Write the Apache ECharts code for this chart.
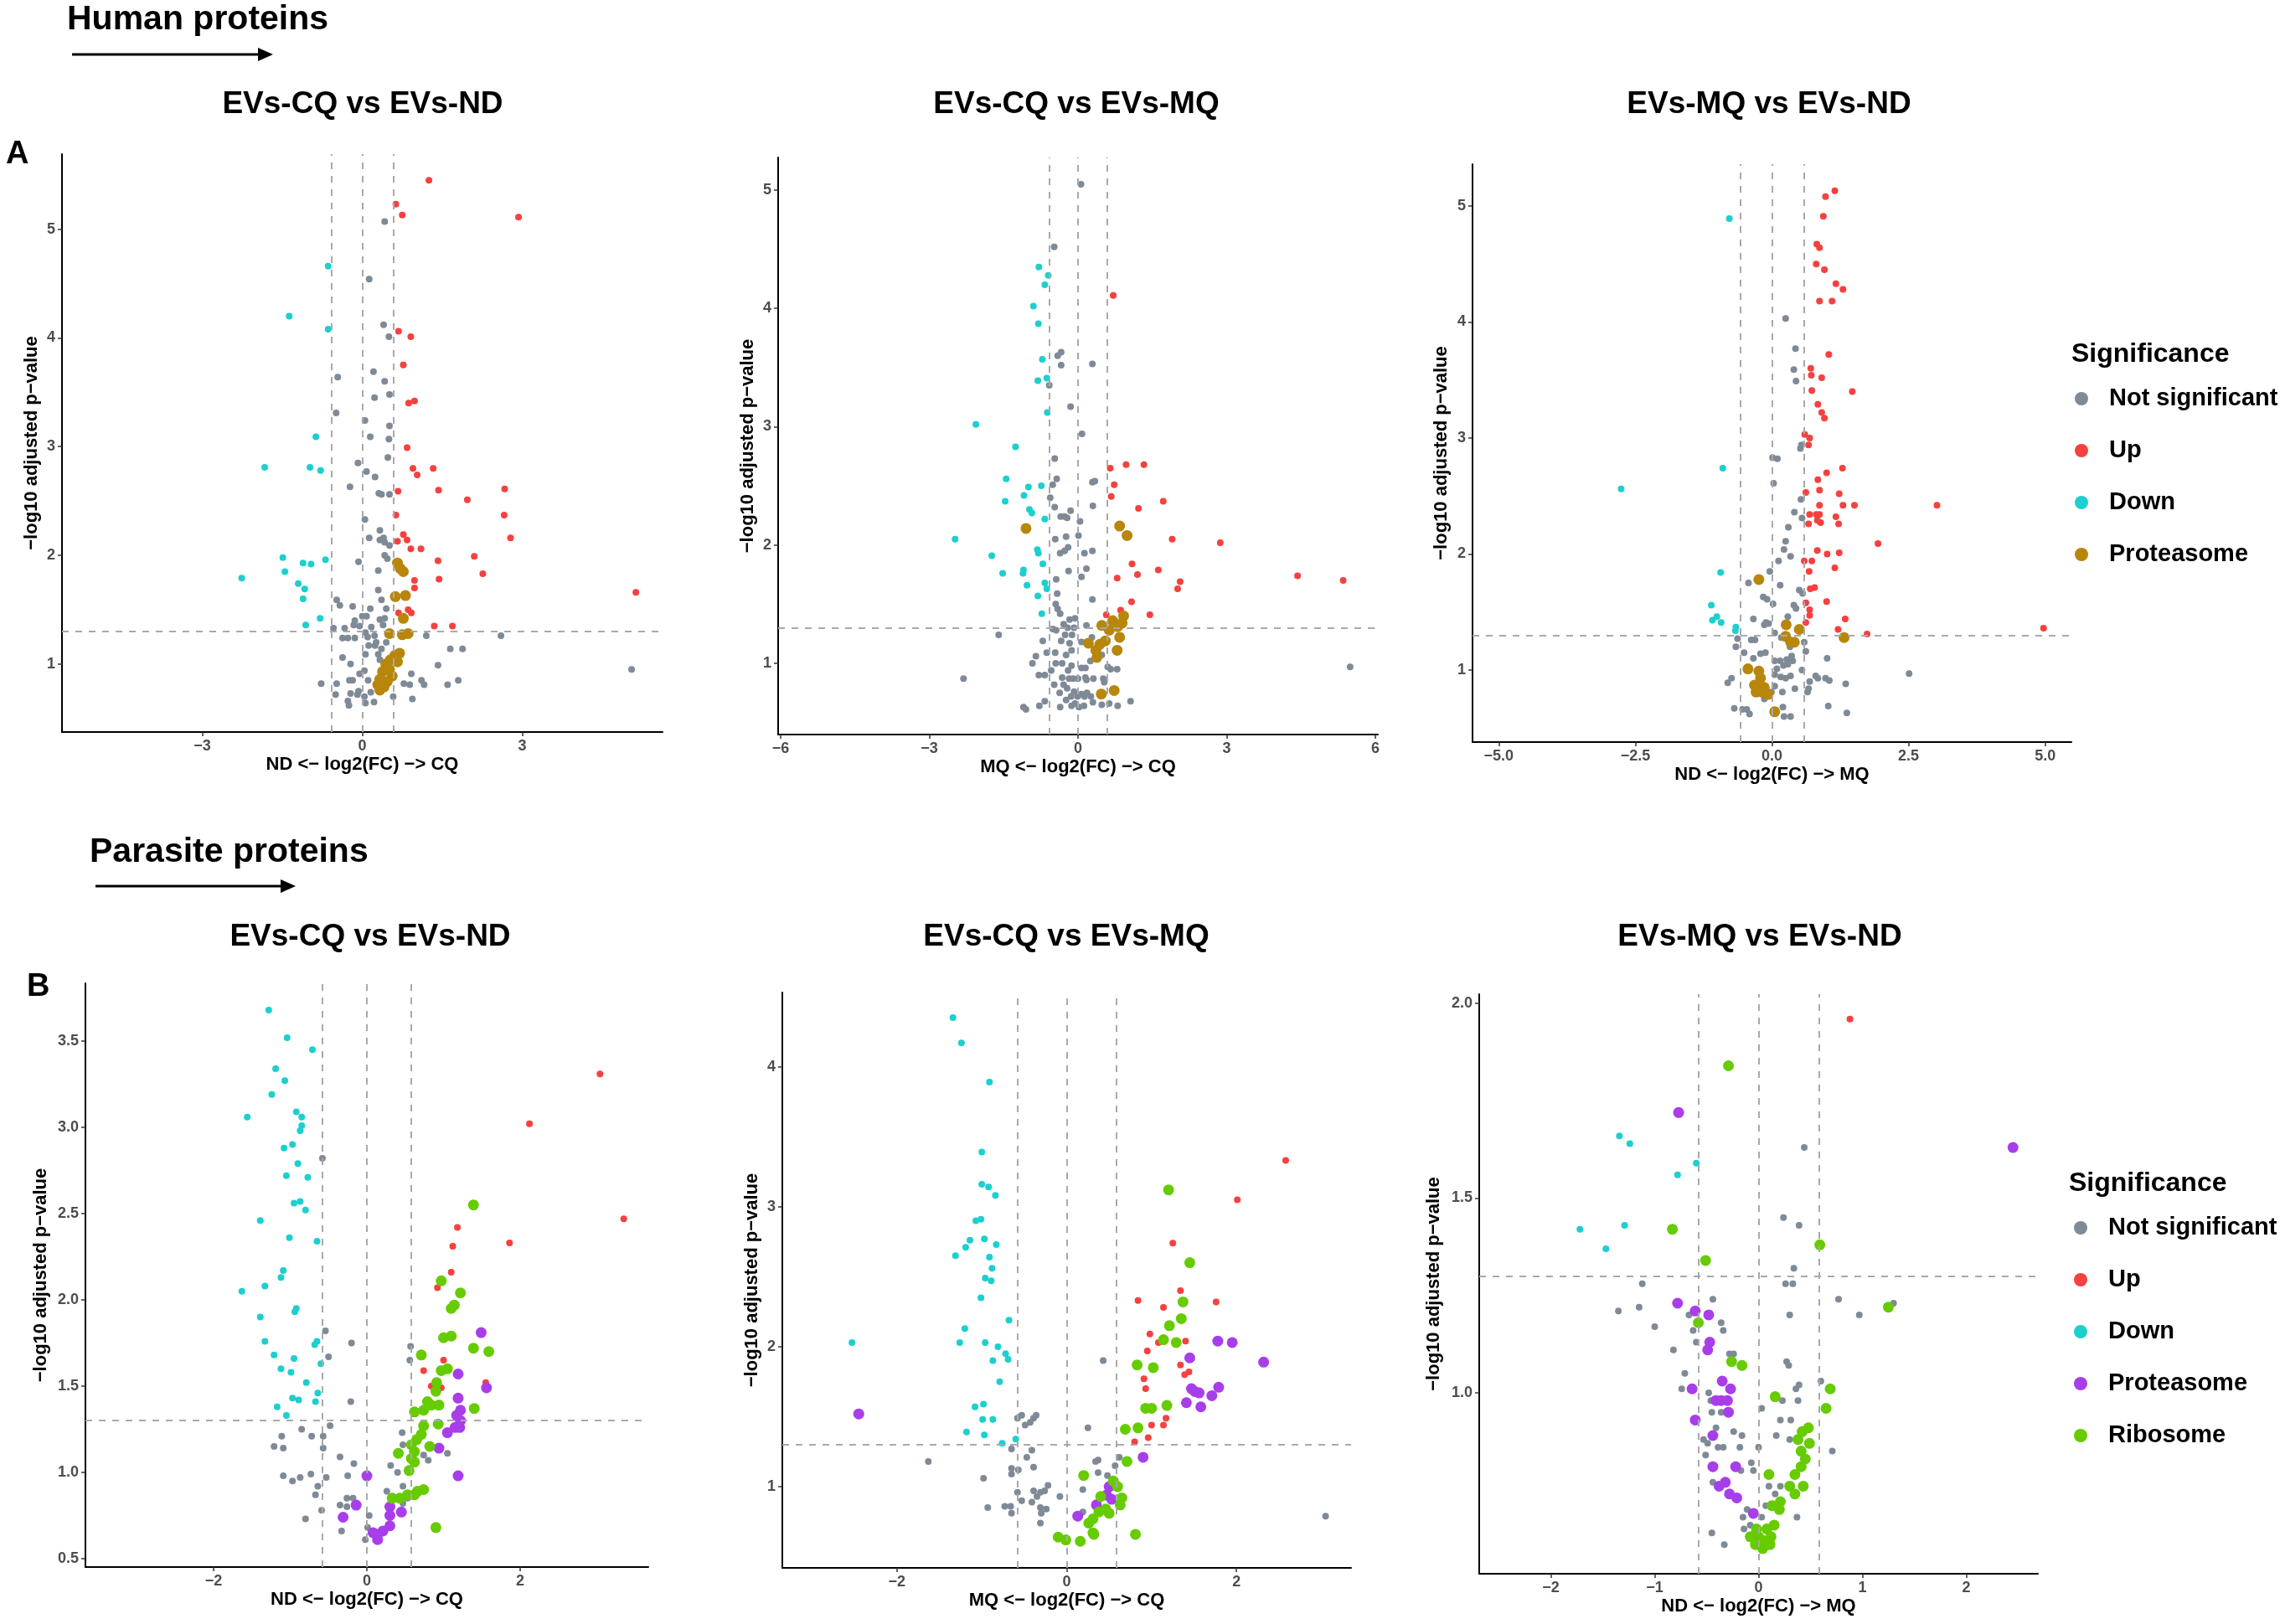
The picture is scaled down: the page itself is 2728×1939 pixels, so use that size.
<!DOCTYPE html>
<html lang="en">
<head>
<meta charset="UTF-8">
<title>Volcano plots</title>
<script src="https://cdn.jsdelivr.net/npm/echarts@6/dist/echarts.min.js"></script>
<style>html,body{margin:0;padding:0;background:#fff;}</style>
</head>
<body>
<div id="main" style="width:2728px;height:1939px;"></div>
<script>
// ---- data: [log2FC, -log10 adj p] ----
// Human, EVs-CQ vs EVs-ND
var hA1_ns = [[0.42,5.07],[0.13,4.54],[0.40,4.12],[0.50,4.01],[0.21,3.69],[-0.46,3.64],[0.42,3.60],[0.23,3.45],[0.51,3.48],[-0.49,3.31],[0.05,3.24],[0.51,3.19],[0.15,3.09],[0.50,3.07],[-0.08,2.85],[0.48,2.90],[0.08,2.77],[0.24,2.72],[-0.23,2.63],[0.31,2.57],[0.36,2.56],[0.51,2.56],[0.05,2.33],[0.33,2.23],[0.13,2.16],[0.40,2.16],[0.33,2.14],[0.42,2.12],[0.51,2.09],[0.42,2.00],[0.47,1.97],[-0.07,1.94],[0.30,1.86],[0.30,1.68],[0.36,1.59],[-0.48,1.59],[-0.42,1.54],[-0.18,1.53],[0.15,1.51],[0.45,1.51],[0.00,1.44],[-0.14,1.40],[0.08,1.44],[0.33,1.41],[0.42,1.42],[-0.16,1.36],[-0.05,1.35],[0.17,1.34],[0.39,1.36],[-0.54,1.33],[-0.33,1.33],[0.06,1.29],[0.23,1.26],[-0.37,1.24],[-0.27,1.24],[-0.14,1.24],[0.10,1.25],[0.26,1.20],[0.45,1.20],[1.20,1.26],[2.60,1.26],[0.12,1.17],[0.24,1.17],[0.36,1.14],[1.65,1.14],[1.88,1.14],[0.06,1.09],[-0.37,1.06],[0.30,1.09],[-0.22,1.00],[1.42,0.99],[0.33,1.04],[0.42,1.01],[5.05,0.95],[-0.77,0.82],[-0.48,0.82],[-0.24,0.85],[-0.18,0.85],[-0.05,0.91],[0.04,0.94],[0.11,0.85],[0.92,0.91],[0.78,0.82],[0.89,0.81],[1.11,0.85],[1.16,0.81],[1.60,0.81],[1.80,0.85],[-0.50,0.72],[-0.22,0.73],[-0.09,0.72],[0.04,0.70],[0.16,0.74],[0.58,0.70],[0.94,0.68],[-0.27,0.66],[0.06,0.64],[-0.25,0.62],[0.22,0.65],[-0.07,0.75]];
var hA1_up = [[1.25,5.45],[0.63,5.23],[0.75,5.13],[2.93,5.11],[0.68,4.06],[0.91,4.01],[0.77,3.75],[0.87,3.40],[0.98,3.42],[0.84,2.99],[0.95,2.80],[1.33,2.80],[1.03,2.74],[0.67,2.59],[1.43,2.60],[2.67,2.61],[1.97,2.51],[0.63,2.37],[2.66,2.37],[2.78,2.16],[0.66,2.13],[0.77,2.19],[0.84,2.14],[0.91,2.06],[1.10,2.06],[1.42,1.95],[2.10,1.99],[2.26,1.83],[0.69,1.87],[0.98,1.77],[0.98,1.70],[1.44,1.78],[5.13,1.66],[0.86,1.50],[0.92,1.47],[0.68,1.47],[1.35,1.35],[1.69,1.35]];
var hA1_down = [[-0.64,4.66],[-1.37,4.20],[-0.64,4.08],[-0.87,3.09],[-1.83,2.81],[-0.98,2.81],[-0.78,2.78],[-1.49,1.98],[-1.11,1.93],[-0.96,1.92],[-0.69,1.96],[-2.26,1.79],[-1.45,1.85],[-1.20,1.74],[-1.08,1.69],[-1.11,1.60],[-0.79,1.42],[-1.06,1.36]];
var hA1_prot = [[0.66,1.93],[0.71,1.88],[0.77,1.85],[0.62,1.62],[0.81,1.63],[0.77,1.42],[0.51,1.28],[0.75,1.27],[0.86,1.28],[0.70,1.10],[0.61,1.08],[0.53,1.04],[0.66,1.02],[0.44,1.00],[0.51,0.95],[0.38,0.93],[0.56,0.89],[0.33,0.86],[0.47,0.84],[0.29,0.81],[0.41,0.79],[0.33,0.76]];

// Human, EVs-CQ vs EVs-MQ
var hA2_ns = [[0.06,5.05],[-0.48,4.52],[-0.34,3.63],[-0.41,3.60],[-0.34,3.52],[0.29,3.53],[-0.58,3.35],[-0.15,3.17],[0.08,2.94],[-0.47,2.73],[-0.43,2.56],[-0.51,2.51],[0.29,2.53],[0.34,2.54],[-0.56,2.40],[-0.47,2.32],[-0.15,2.29],[0.30,2.33],[-0.35,2.24],[-0.27,2.24],[-0.22,2.23],[0.04,2.20],[-0.46,2.05],[-0.24,2.07],[0.01,2.08],[-0.20,1.98],[-0.27,1.95],[-0.36,1.93],[0.13,1.93],[0.29,1.95],[0.17,1.80],[-0.19,1.78],[-0.44,1.71],[0.07,1.73],[-0.42,1.59],[0.29,1.54],[-0.45,1.50],[-0.41,1.46],[-0.36,1.42],[-0.17,1.37],[-0.06,1.38],[-0.29,1.33],[-0.51,1.29],[-0.44,1.28],[-0.21,1.30],[-0.08,1.30],[0.17,1.32],[-1.60,1.24],[-0.71,1.19],[-0.26,1.24],[-0.12,1.24],[-0.34,1.19],[-0.17,1.17],[0.07,1.18],[0.28,1.22],[-0.63,1.09],[-0.46,1.09],[-0.24,1.07],[-0.13,1.11],[-0.85,1.06],[-0.45,1.00],[-0.92,1.00],[-0.32,1.00],[0.25,1.02],[0.48,1.07],[0.60,0.97],[0.66,0.95],[-0.13,0.98],[0.07,0.96],[0.15,0.96],[0.79,0.95],[5.49,0.97],[-2.31,0.87],[-0.79,0.90],[-0.67,0.90],[-0.54,0.94],[-0.20,0.94],[-0.18,0.87],[-0.32,0.88],[-0.10,0.87],[0.00,0.87],[0.17,0.86],[0.15,0.88],[0.31,0.87],[0.51,0.87],[0.53,0.84],[-0.48,0.82],[-0.29,0.82],[-0.22,0.79],[-0.08,0.76],[0.07,0.74],[-0.37,0.75],[-0.01,0.72],[0.13,0.72],[0.26,0.72],[0.18,0.75],[-0.14,0.72],[-0.24,0.69],[0.30,0.67],[1.06,0.68],[0.63,0.66],[0.80,0.64],[-0.67,0.68],[-0.78,0.64],[-0.36,0.63],[-0.13,0.64],[0.02,0.63],[0.12,0.64],[-1.10,0.63],[-1.05,0.61],[0.48,0.65],[-0.06,0.66]];
var hA2_up = [[0.71,4.11],[0.65,2.65],[0.97,2.68],[1.33,2.68],[0.73,2.51],[0.67,2.41],[1.22,2.31],[1.72,2.37],[1.90,2.05],[2.87,2.02],[1.09,1.84],[1.62,1.79],[1.20,1.75],[0.79,1.72],[2.06,1.69],[2.01,1.63],[4.43,1.74],[5.35,1.70],[1.08,1.52],[0.86,1.45],[1.45,1.41],[0.57,1.41]];
var hA2_down = [[-0.79,4.35],[-0.60,4.28],[-0.67,4.20],[-0.90,4.02],[-0.80,3.87],[-0.72,3.57],[-0.63,3.41],[-0.81,3.39],[-0.62,3.12],[-2.06,3.02],[-1.26,2.83],[-1.45,2.56],[-1.00,2.49],[-0.74,2.50],[-1.09,2.42],[-1.47,2.37],[-0.98,2.30],[-0.93,2.27],[-0.67,2.22],[-2.48,2.05],[-0.82,1.96],[-0.80,1.93],[-1.74,1.91],[-0.71,1.84],[-1.10,1.79],[-1.11,1.76],[-1.52,1.76],[-0.67,1.68],[-0.63,1.63],[-1.03,1.66],[-0.81,1.57],[-0.73,1.42]];
var hA2_prot = [[-1.05,2.14],[0.84,2.16],[0.99,2.08],[0.92,1.40],[0.70,1.36],[0.48,1.32],[0.80,1.31],[0.89,1.34],[0.63,1.28],[0.84,1.22],[0.55,1.19],[0.44,1.16],[0.21,1.17],[0.36,1.11],[0.79,1.11],[0.38,1.05],[0.47,0.74],[0.73,0.77]];

// Human, EVs-MQ vs EVs-ND
var hA3_ns = [[0.25,4.03],[0.43,3.77],[0.40,3.59],[0.44,3.49],[0.54,2.94],[0.52,2.91],[0.01,2.83],[0.10,2.82],[0.03,2.61],[0.53,2.47],[0.41,2.36],[0.55,2.31],[0.30,2.23],[0.25,2.11],[0.22,2.04],[0.34,1.98],[0.12,1.94],[-0.04,1.85],[-0.43,1.75],[0.15,1.73],[0.50,1.69],[0.56,1.66],[-0.16,1.63],[-0.09,1.61],[0.02,1.57],[0.40,1.56],[0.44,1.53],[0.29,1.46],[-0.34,1.44],[-0.11,1.41],[-0.06,1.40],[-0.14,1.39],[0.05,1.32],[0.17,1.28],[-0.63,1.27],[-0.66,1.20],[-0.38,1.26],[-0.31,1.26],[0.59,1.24],[0.33,1.20],[-0.51,1.15],[-0.21,1.14],[-0.12,1.15],[0.62,1.16],[1.01,1.10],[-0.34,1.10],[0.05,1.08],[0.15,1.08],[0.27,1.09],[0.36,1.12],[0.21,1.04],[0.29,1.05],[0.38,1.08],[0.09,1.01],[0.55,1.00],[2.51,0.97],[-0.74,0.93],[-0.81,0.89],[0.05,0.96],[0.16,0.94],[0.34,0.95],[0.25,0.93],[0.80,0.95],[0.84,0.93],[0.98,0.93],[1.05,0.91],[0.69,0.90],[1.35,0.88],[0.05,0.86],[-0.01,0.81],[0.19,0.81],[0.42,0.84],[0.67,0.84],[0.65,0.81],[-0.14,0.75],[-0.69,0.67],[-0.54,0.66],[-0.46,0.66],[-0.41,0.62],[0.20,0.68],[1.03,0.69],[1.37,0.63],[0.22,0.60],[0.34,0.60]];
var hA3_up = [[1.15,5.13],[0.98,5.08],[0.94,4.91],[0.82,4.67],[0.87,4.64],[0.81,4.50],[0.96,4.45],[1.17,4.33],[1.30,4.28],[0.87,4.18],[1.10,4.18],[1.04,3.72],[0.71,3.60],[0.72,3.54],[0.91,3.52],[1.47,3.40],[0.73,3.41],[0.84,3.29],[0.91,3.22],[0.96,3.17],[0.60,3.03],[0.69,3.00],[0.67,2.94],[1.29,2.74],[1.00,2.70],[0.84,2.64],[0.62,2.53],[0.87,2.55],[1.23,2.52],[0.87,2.42],[1.30,2.42],[1.51,2.42],[3.02,2.42],[0.69,2.34],[0.81,2.34],[0.87,2.34],[1.17,2.32],[0.67,2.26],[0.83,2.29],[0.89,2.27],[1.22,2.26],[1.94,2.09],[0.83,2.03],[1.01,2.00],[1.23,2.01],[0.59,1.94],[0.73,1.94],[0.68,1.85],[1.15,1.88],[0.70,1.70],[0.78,1.71],[1.00,1.59],[0.62,1.58],[0.69,1.52],[0.69,1.47],[1.34,1.44],[0.62,1.41],[1.21,1.35],[1.74,1.31],[4.97,1.36]];
var hA3_down = [[-0.78,4.89],[-0.90,2.74],[-2.76,2.56],[-0.94,1.84],[-1.11,1.56],[-1.01,1.46],[-1.09,1.43],[-0.93,1.41],[-0.66,1.37],[-0.67,1.34]];
var hA3_prot = [[-0.24,1.78],[0.26,1.39],[0.50,1.35],[0.25,1.29],[0.34,1.24],[0.41,1.24],[1.32,1.28],[-0.44,1.01],[-0.24,0.99],[-0.21,0.93],[-0.32,0.87],[-0.25,0.84],[-0.14,0.85],[-0.29,0.81],[-0.18,0.81],[-0.07,0.79],[0.05,0.64]];

// Parasite, EVs-CQ vs EVs-ND
var pB1_ns = [[-0.58,2.82],[-0.54,1.82],[-0.20,1.75],[-0.50,1.67],[-0.21,1.41],[0.57,1.73],[0.56,1.65],[-0.48,1.27],[-0.85,1.25],[-1.11,1.21],[-0.72,1.21],[-0.57,1.21],[-1.21,1.15],[-1.09,1.14],[-0.57,1.14],[0.46,1.23],[0.47,1.16],[-0.35,1.09],[-0.17,1.05],[0.31,1.04],[0.40,1.00],[0.74,1.10],[0.80,1.07],[1.05,1.11],[-1.09,0.98],[-0.97,0.95],[-0.87,0.97],[-0.73,0.99],[-0.64,0.92],[-0.53,0.97],[-0.25,0.98],[-0.67,0.87],[0.47,0.92],[0.26,0.89],[-0.59,0.78],[-0.35,0.81],[-0.26,0.85],[-0.18,0.85],[-0.26,0.80],[-0.80,0.73],[-0.33,0.66],[0.03,0.75],[0.01,0.68],[-0.02,0.61],[0.47,0.82],[0.53,0.85]];
var pB1_up = [[3.04,3.31],[2.12,3.02],[1.18,2.42],[3.35,2.47],[1.12,2.31],[1.86,2.33],[1.10,2.16],[0.92,2.07],[1.00,1.65],[0.74,1.59],[0.84,1.50],[0.97,1.49],[1.55,1.52]];
var pB1_down = [[-1.28,3.68],[-1.04,3.52],[-0.71,3.45],[-1.19,3.34],[-1.07,3.27],[-1.24,3.19],[-1.56,3.06],[-0.92,3.09],[-0.85,3.06],[-0.85,3.01],[-0.87,2.98],[-0.97,2.90],[-1.08,2.88],[-0.90,2.79],[-1.05,2.72],[-0.77,2.71],[-0.95,2.56],[-0.87,2.57],[-0.80,2.52],[-1.39,2.46],[-1.01,2.36],[-0.65,2.34],[-1.09,2.17],[-1.12,2.13],[-1.33,2.08],[-1.63,2.05],[-0.92,1.95],[-0.94,1.93],[-1.39,1.90],[-1.33,1.76],[-0.65,1.76],[-0.68,1.74],[-1.21,1.68],[-0.95,1.66],[-0.60,1.63],[-1.12,1.60],[-0.99,1.58],[-0.79,1.52],[-0.64,1.46],[-0.97,1.43],[-0.89,1.42],[-0.67,1.41],[-1.17,1.38],[-1.05,1.33]];
var pB1_prot = [[1.49,1.81],[1.19,1.57],[1.56,1.49],[1.19,1.43],[1.22,1.36],[1.17,1.33],[1.22,1.30],[1.15,1.26],[1.05,1.23],[1.21,1.26],[0.94,1.14],[1.19,0.98],[0.00,0.98],[-0.14,0.81],[-0.31,0.74],[0.30,0.80],[0.30,0.75],[0.45,0.77],[0.30,0.69],[0.21,0.66],[0.08,0.65],[0.14,0.61],[0.14,0.64]];
var pB1_ribo = [[1.39,2.55],[0.97,2.11],[1.22,2.04],[1.14,1.97],[1.10,1.95],[1.00,1.78],[1.10,1.79],[1.39,1.72],[1.59,1.70],[0.71,1.68],[0.97,1.59],[1.05,1.60],[0.91,1.52],[0.90,1.47],[0.79,1.41],[0.84,1.39],[0.94,1.39],[0.74,1.36],[0.62,1.35],[1.40,1.37],[0.74,1.27],[0.93,1.28],[0.71,1.22],[0.65,1.19],[0.82,1.15],[0.58,1.16],[0.41,1.11],[0.62,1.12],[0.58,1.08],[0.62,1.06],[0.55,1.01],[0.33,0.85],[0.43,0.85],[0.53,0.87],[0.62,0.87],[0.66,0.89],[0.74,0.90],[0.90,0.68]];

// Parasite, EVs-CQ vs EVs-MQ
var pB2_ns = [[0.43,1.90],[-0.58,1.49],[-0.53,1.51],[-0.49,1.44],[-0.43,1.46],[-0.39,1.49],[-0.36,1.51],[0.25,1.42],[-1.63,1.18],[-0.65,1.27],[-0.41,1.26],[-0.47,1.21],[-0.65,1.13],[-0.57,1.12],[-0.65,1.09],[-0.39,1.14],[0.34,1.18],[0.37,1.19],[0.57,1.15],[0.62,1.21],[0.37,1.10],[0.48,1.08],[-0.98,1.06],[-0.58,0.96],[-0.39,0.97],[-0.31,0.96],[-0.26,0.97],[-0.22,1.01],[-0.08,0.93],[0.19,0.98],[-0.53,0.90],[-0.41,0.89],[-0.35,0.93],[-0.93,0.85],[-0.73,0.86],[-0.66,0.86],[-0.65,0.81],[-0.31,0.85],[-0.24,0.84],[-0.30,0.81],[-0.31,0.74],[0.19,0.82],[3.05,0.79]];
var pB2_up = [[2.58,3.33],[2.01,3.05],[1.25,2.74],[1.34,2.40],[0.84,2.33],[1.76,2.32],[1.14,2.28],[0.98,2.09],[1.08,2.03],[1.40,2.04],[0.95,1.97],[1.34,1.87],[1.44,1.82],[1.39,1.80],[0.91,1.77],[0.93,1.70],[1.17,1.49],[1.00,1.44],[1.14,1.44],[0.96,1.35],[0.80,1.32]];
var pB2_down = [[-1.34,4.35],[-1.24,4.17],[-0.91,3.89],[-1.00,3.39],[-1.00,3.16],[-0.92,3.14],[-0.84,3.08],[-1.07,2.90],[-1.01,2.91],[-1.14,2.76],[-1.19,2.71],[-0.97,2.77],[-0.83,2.73],[-1.31,2.65],[-0.91,2.64],[-0.88,2.56],[-0.96,2.49],[-0.89,2.47],[-1.01,2.35],[-0.68,2.19],[-1.20,2.13],[-2.53,2.03],[-1.26,2.03],[-0.96,2.03],[-0.81,2.00],[-0.72,1.95],[-0.69,1.91],[-0.87,1.90],[-0.79,1.75],[-1.08,1.57],[-0.98,1.59],[-0.99,1.48],[-0.87,1.48],[-1.18,1.39],[-0.97,1.37],[-0.76,1.31],[-0.60,1.34]];
var pB2_prot = [[-2.45,1.52],[1.78,2.04],[1.95,2.03],[2.32,1.89],[1.45,1.92],[1.47,1.70],[1.51,1.68],[1.56,1.67],[1.79,1.71],[1.71,1.65],[1.41,1.60],[1.58,1.57],[0.90,1.21],[0.50,1.00],[0.47,0.94],[0.53,0.91],[0.35,0.87],[0.13,0.79]];
var pB2_ribo = [[1.20,3.12],[1.45,2.60],[1.37,2.32],[1.35,2.20],[1.21,2.15],[1.14,2.05],[1.29,2.03],[0.83,1.87],[1.02,1.85],[1.18,1.58],[0.93,1.56],[1.00,1.56],[0.69,1.41],[0.84,1.42],[0.71,1.18],[0.20,1.08],[0.55,1.04],[0.60,1.00],[0.40,0.93],[0.65,0.92],[0.63,0.87],[0.46,0.84],[0.38,0.82],[0.50,0.81],[0.31,0.77],[0.26,0.74],[0.31,0.67],[0.32,0.66],[-0.10,0.64],[-0.01,0.62],[0.16,0.61],[0.81,0.66]];

// Parasite, EVs-MQ vs EVs-ND
var pB3_ns = [[0.44,1.63],[0.24,1.45],[0.39,1.43],[0.34,1.32],[0.26,1.28],[0.33,1.28],[-1.12,1.28],[0.77,1.24],[1.30,1.23],[-1.15,1.22],[-1.35,1.21],[-0.44,1.24],[0.30,1.20],[0.97,1.20],[-0.67,1.20],[-0.36,1.18],[-1.00,1.17],[-0.34,1.16],[-0.63,1.16],[-0.60,1.13],[-0.82,1.11],[-0.71,1.05],[-0.28,1.10],[-0.24,1.10],[0.27,1.08],[0.29,1.07],[-0.74,1.01],[-0.48,1.00],[-0.46,0.98],[0.36,1.01],[0.39,1.02],[0.60,1.03],[0.23,0.98],[0.38,0.98],[-0.45,0.95],[-0.36,0.95],[0.03,0.96],[0.21,0.93],[0.31,0.93],[-0.41,0.91],[-0.24,0.90],[-0.16,0.89],[-0.53,0.88],[-0.49,0.87],[-0.39,0.86],[-0.34,0.86],[-0.18,0.86],[0.00,0.86],[0.17,0.89],[0.30,0.88],[0.71,0.85],[-0.51,0.84],[-0.07,0.82],[-0.05,0.80],[-0.17,0.80],[-0.44,0.77],[0.10,0.76],[0.16,0.74],[-0.11,0.70],[-0.15,0.68],[0.03,0.68],[-0.08,0.66],[-0.14,0.65],[-0.45,0.64],[-0.33,0.61],[0.37,0.68],[0.21,0.76],[0.07,0.71]];
var pB3_up = [[0.88,1.96]];
var pB3_down = [[-1.34,1.66],[-1.24,1.64],[-0.60,1.59],[-0.78,1.56],[-1.72,1.42],[-1.29,1.43],[-1.47,1.37]];
var pB3_prot = [[2.45,1.63],[-0.77,1.72],[-0.78,1.23],[-0.61,1.21],[-0.48,1.20],[-0.47,1.13],[-0.49,1.11],[-0.64,1.01],[-0.35,1.03],[-0.27,1.01],[-0.41,0.98],[-0.36,0.98],[-0.30,0.98],[-0.29,0.95],[-0.61,0.93],[-0.44,0.89],[-0.44,0.81],[-0.22,0.81],[-0.38,0.76],[-0.32,0.77],[-0.28,0.74],[-0.21,0.73],[-0.05,0.69]];
var pB3_ribo = [[-0.29,1.84],[-0.83,1.42],[0.59,1.38],[-0.51,1.34],[1.25,1.22],[-0.58,1.18],[-0.26,1.08],[-0.16,1.07],[0.69,1.01],[0.16,0.99],[0.65,0.96],[0.48,0.91],[0.42,0.90],[0.38,0.88],[0.49,0.87],[0.41,0.85],[0.45,0.83],[0.41,0.81],[0.10,0.79],[0.35,0.79],[0.43,0.76],[0.30,0.76],[0.35,0.74],[0.21,0.72],[0.13,0.71],[0.20,0.70],[0.15,0.66],[0.08,0.65],[-0.02,0.65],[-0.08,0.63],[0.00,0.63],[0.05,0.62],[-0.03,0.61],[0.04,0.60],[0.11,0.61],[0.12,0.63]];

// tick labels
var xTicksA1 = [-3, 0, 3];
var xTicksA2 = [-6, -3, 0, 3, 6];
var xTicksA3 = [-5, -2.5, 0, 2.5, 5];
var xTicksB = [-2, 0, 2];
var xTicksB3 = [-2, -1, 0, 1, 2];
var yTicksA = [1, 2, 3, 4, 5];
var yTicksB1 = [0.5, 1, 1.5, 2, 2.5, 3, 3.5];
var yTicksB2 = [1, 2, 3, 4];
var yTicksB3 = [1, 1.5, 2];

var fcCut = 0.585, pCut = 1.301;

var FONT = '"Liberation Sans", Arial, Helvetica, sans-serif';
var COL = { ns: '#7F8A97', up: '#F5413F', down: '#1DCFCF', protA: '#B8860B', protB: '#A83EEA', ribo: '#66CC00' };

// layout of the six panels (pixels)
var panels = [
  { title: 'EVs-CQ vs EVs-ND', tx: 433, ty: 125, box: [74, 184, 717, 690], x: [-5.63, 5.63], y: [0.375, 5.69],
    xt: xTicksA1, yt: yTicksA, xdec: 0, ydec: 0, xname: 'ND <\u2212 log2(FC) \u2212> CQ', ygap: 25, set: 'A',
    data: { ns: hA1_ns, up: hA1_up, down: hA1_down, prot: hA1_prot } },
  { title: 'EVs-CQ vs EVs-MQ', tx: 1285, ty: 125, box: [929, 188, 716, 689], x: [-6.05, 6.05], y: [0.398, 5.276],
    xt: xTicksA2, yt: yTicksA, xdec: 0, ydec: 0, xname: 'MQ <\u2212 log2(FC) \u2212> CQ', ygap: 25, set: 'A',
    data: { ns: hA2_ns, up: hA2_up, down: hA2_down, prot: hA2_prot } },
  { title: 'EVs-MQ vs EVs-ND', tx: 2112, ty: 125, box: [1758, 196, 715, 690], x: [-5.48, 5.48], y: [0.379, 5.36],
    xt: xTicksA3, yt: yTicksA, xdec: 1, ydec: 0, xname: 'ND <\u2212 log2(FC) \u2212> MQ', ygap: 26, set: 'A',
    data: { ns: hA3_ns, up: hA3_up, down: hA3_down, prot: hA3_prot } },
  { title: 'EVs-CQ vs EVs-ND', tx: 442, ty: 1119, box: [102, 1174, 672, 697], x: [-3.67, 3.67], y: [0.451, 3.835],
    xt: xTicksB, yt: yTicksB1, xdec: 0, ydec: 1, xname: 'ND <\u2212 log2(FC) \u2212> CQ', ygap: 42, set: 'B',
    data: { ns: pB1_ns, up: pB1_up, down: pB1_down, prot: pB1_prot, ribo: pB1_ribo } },
  { title: 'EVs-CQ vs EVs-MQ', tx: 1273, ty: 1119, box: [934, 1185, 679, 687], x: [-3.35, 3.35], y: [0.42, 4.53],
    xt: xTicksB, yt: yTicksB2, xdec: 0, ydec: 0, xname: 'MQ <\u2212 log2(FC) \u2212> CQ', ygap: 25, set: 'B',
    data: { ns: pB2_ns, up: pB2_up, down: pB2_down, prot: pB2_prot, ribo: pB2_ribo } },
  { title: 'EVs-MQ vs EVs-ND', tx: 2101, ty: 1119, box: [1766, 1187, 667, 692], x: [-2.69, 2.69], y: [0.535, 2.024],
    xt: xTicksB3, yt: yTicksB3, xdec: 0, ydec: 1, xname: 'ND <\u2212 log2(FC) \u2212> MQ', ygap: 43, set: 'B',
    data: { ns: pB3_ns, up: pB3_up, down: pB3_down, prot: pB3_prot, ribo: pB3_ribo } }
];

var labels = { ns: 'Not significant', up: 'Up', down: 'Down', prot: 'Proteasome', ribo: 'Ribosome' };

function fmt(dec) {
  return function (v) {
    var s = Math.abs(v).toFixed(dec);
    return v < 0 ? '\u2212' + s : s;
  };
}

var axisLabelStyle = { fontSize: 18, fontWeight: 'bold', color: '#4D4D4D', fontFamily: FONT };
var nameStyle = { fontSize: 22, fontWeight: 'bold', color: '#000', fontFamily: FONT };

var grids = [], xAxes = [], yAxes = [], series = [], graphics = [];

panels.forEach(function (p, i) {
  grids.push({ left: p.box[0], top: p.box[1], width: p.box[2], height: p.box[3], containLabel: false });
  xAxes.push({
    type: 'value', gridIndex: i, min: p.x[0], max: p.x[1],
    name: p.xname, nameLocation: 'middle', nameGap: 28, nameTextStyle: nameStyle,
    axisLine: { onZero: false, lineStyle: { color: '#000', width: 2 } },
    axisTick: { length: 5, lineStyle: { color: '#333', width: 1.5 }, customValues: p.xt },
    axisLabel: Object.assign({ margin: 8, customValues: p.xt, formatter: fmt(p.xdec) }, axisLabelStyle),
    splitLine: { show: false }
  });
  yAxes.push({
    type: 'value', gridIndex: i, min: p.y[0], max: p.y[1],
    name: '\u2212log10 adjusted p\u2212value', nameLocation: 'middle', nameGap: p.ygap, nameTextStyle: nameStyle,
    axisLine: { onZero: false, lineStyle: { color: '#000', width: 2 } },
    axisTick: { length: 5, lineStyle: { color: '#333', width: 1.5 }, customValues: p.yt },
    axisLabel: Object.assign({ margin: 8, customValues: p.yt, formatter: fmt(p.ydec) }, axisLabelStyle),
    splitLine: { show: false }
  });

  var order = p.set === 'A' ? ['ns', 'up', 'down', 'prot'] : ['ns', 'up', 'down', 'prot', 'ribo'];
  order.forEach(function (k, j) {
    var big = (k === 'prot' || k === 'ribo');
    var color = k === 'prot' ? (p.set === 'A' ? COL.protA : COL.protB) : COL[k];
    var s = {
      type: 'scatter', name: p.set + ':' + labels[k], xAxisIndex: i, yAxisIndex: i,
      data: p.data[k], symbolSize: big ? 13 : 8,
      itemStyle: { color: color, opacity: 1 }, emphasis: { disabled: true }, silent: true
    };
    if (j === 0) {
      s.markLine = {
        silent: true, symbol: 'none', label: { show: false }, animation: false,
        lineStyle: { color: '#A9A9A9', width: 2, type: [8, 8] },
        data: [{ xAxis: -fcCut }, { xAxis: 0 }, { xAxis: fcCut }, { yAxis: pCut }]
      };
    }
    series.push(s);
  });

  graphics.push({ type: 'text', x: p.tx, y: p.ty, style: { text: p.title, fontSize: 37, fontWeight: 'bold', fontFamily: FONT, fill: '#000', textAlign: 'center', textVerticalAlign: 'middle', align: 'center', verticalAlign: 'middle' } });
});

function txt(t, x, y, size, align) {
  return { type: 'text', x: x, y: y, style: { text: t, fontSize: size, fontWeight: 'bold', fontFamily: FONT, fill: '#000', textAlign: align || 'left', textVerticalAlign: 'middle', align: align || 'left', verticalAlign: 'middle' } };
}
function arrow(x1, x2, y) {
  return [
    { type: 'line', shape: { x1: x1, y1: y, x2: x2 - 12, y2: y }, style: { stroke: '#000', lineWidth: 3 } },
    { type: 'polygon', shape: { points: [[x2, y], [x2 - 18, y - 8], [x2 - 18, y + 8]] }, style: { fill: '#000' } }
  ];
}

graphics.push(txt('Human proteins', 80, 24, 41));
graphics = graphics.concat(arrow(86, 326, 65));
graphics.push(txt('Parasite proteins', 107, 1018, 41));
graphics = graphics.concat(arrow(114, 353, 1058));
graphics.push(txt('A', 7, 185, 38));
graphics.push(txt('B', 32, 1179, 38));
graphics.push(txt('Significance', 2473, 423, 32));
graphics.push(txt('Significance', 2470, 1413, 32));

function legendFor(set, names, top) {
  return {
    data: names.map(function (n) { return set + ':' + n; }),
    orient: 'vertical', left: set === 'A' ? 2477 : 2476, top: top, padding: 0,
    icon: 'circle', itemWidth: 16, itemHeight: 16, itemGap: 32, selectedMode: false,
    formatter: function (n) { return n.slice(2); },
    textStyle: { fontSize: 29, fontWeight: 'bold', color: '#000', fontFamily: FONT, lineHeight: 30, padding: [0, 0, 0, 20] }
  };
}

var myChart = echarts.init(document.getElementById('main'), null, { renderer: 'canvas' });
myChart.setOption({
  backgroundColor: '#fff',
  animation: false,
  textStyle: { fontFamily: FONT },
  grid: grids,
  xAxis: xAxes,
  yAxis: yAxes,
  legend: [
    legendFor('A', ['Not significant', 'Up', 'Down', 'Proteasome'], 461),
    legendFor('B', ['Not significant', 'Up', 'Down', 'Proteasome', 'Ribosome'], 1451)
  ],
  graphic: graphics,
  series: series
});
</script>
</body>
</html>
